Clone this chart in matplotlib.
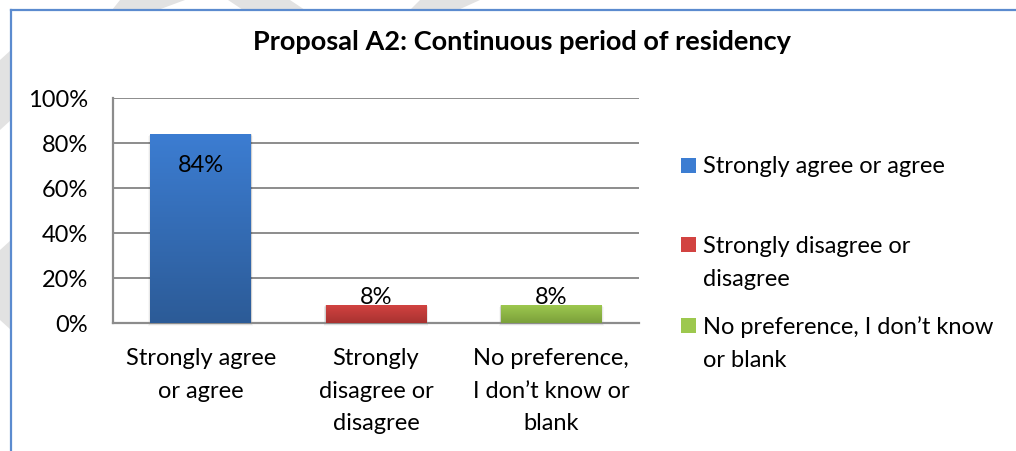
import numpy as np
import matplotlib
matplotlib.use("Agg")
import matplotlib.pyplot as plt
from matplotlib.lines import Line2D
from matplotlib.patches import Polygon
from matplotlib.colors import LinearSegmentedColormap

plt.rcParams['font.family'] = ['Lato', 'DejaVu Sans']

# Survey responses for proposal A2
categories = ["Strongly agree\nor agree", "Strongly\ndisagree or\ndisagree", "No preference,\nI don\u2019t know or\nblank"]
legend_labels = ["Strongly agree or agree", "Strongly disagree or\ndisagree", "No preference, I don\u2019t know\nor blank"]
values = [84, 8, 8]
value_labels = ["84%", "8%", "8%"]
ytick_values = [0, 20, 40, 60, 80, 100]
ytick_labels = ["0%", "20%", "40%", "60%", "80%", "100%"]
title = "Proposal A2: Continuous period of residency"

# top / bottom colours of each bar's vertical gradient
grad_colors = [("#3C7DD2", "#2C5B97"), ("#D24341", "#A83230"), ("#9DC84E", "#7BA03B")]

FS = 17

W, H = 1016, 451
fig = plt.figure(figsize=(W / 100, H / 100), dpi=100)
fig.patch.set_facecolor("white")

# faint watermark strokes outside the chart frame
wm = "#E2E2E2"
for poly in [
    [(120, 0), (185, 0), (158, 10), (112, 10)],
    [(228, 0), (290, 0), (305, 10), (243, 10)],
    [(420, 0), (480, 0), (458, 10), (410, 10)],
    [(0, 60), (11, 50), (11, 120), (0, 130)],
    [(0, 250), (11, 240), (11, 330), (0, 320)],
]:
    fig.add_artist(Polygon([(x / W, 1 - y / H) for x, y in poly], closed=True,
                           facecolor=wm, edgecolor="none", transform=fig.transFigure, zorder=0))

# chart frame (top and left edges visible)
frame_c = "#5B8BCF"
fig.add_artist(Line2D([11 / W, 11 / W], [0, 1 - 10 / H], color=frame_c, lw=1.6,
                      transform=fig.transFigure, zorder=1))
fig.add_artist(Line2D([11 / W, 1], [1 - 10 / H, 1 - 10 / H], color=frame_c, lw=1.6,
                      transform=fig.transFigure, zorder=1))

ax_left, ax_right, ax_top, ax_bot = 113, 639, 98.3, 323
ax = fig.add_axes([ax_left / W, 1 - ax_bot / H, (ax_right - ax_left) / W, (ax_bot - ax_top) / H])
ax.set_facecolor("white")

x = np.arange(len(values))
bar_w = 0.576
bars = ax.bar(x, values, width=bar_w, color="none", zorder=3)

# gradient fills and soft shadows for each bar
for b, (top_c, bot_c) in zip(bars, grad_colors):
    x0, w, h = b.get_x(), b.get_width(), b.get_height()
    for k, a in enumerate([0.10, 0.06, 0.03]):
        d = 0.012 * (k + 1)
        ax.add_patch(plt.Rectangle((x0 - d * 0.3, -0.6 - k * 0.4), w + d * 0.6, h + 0.6,
                                   facecolor="black", alpha=a, edgecolor="none", zorder=2,
                                   clip_on=False))
    cmap = LinearSegmentedColormap.from_list("g", [bot_c, top_c])
    grad = np.linspace(0, 1, 256).reshape(-1, 1)
    ax.imshow(grad, cmap=cmap, origin="lower", aspect="auto",
              extent=(x0, x0 + w, 0, h), zorder=4)
ax.set_xlim(-0.5, len(values) - 0.5)
ax.set_ylim(0, 100)

# value labels
for xi, v, lab in zip(x, values, value_labels):
    if v > 50:
        ax.text(xi, v - 14, lab, ha="center", va="center", fontsize=FS, color="black", zorder=6)
    else:
        ax.text(xi, v + 3.5, lab, ha="center", va="center", fontsize=FS, color="black", zorder=6)

grid_c = "#8C8C8C"
ax.set_yticks(ytick_values)
ax.set_yticklabels(ytick_labels, fontsize=FS)
ax.yaxis.grid(True, color=grid_c, lw=1.4, zorder=1)
ax.set_axisbelow(True)
ax.tick_params(axis="y", length=0, pad=18)
ax.set_xticks(x)
ax.set_xticklabels(categories, fontsize=FS, linespacing=1.68)
ax.tick_params(axis="x", length=0, pad=18)
for s in ["top", "right"]:
    ax.spines[s].set_visible(False)
for s in ["left", "bottom"]:
    ax.spines[s].set_color(grid_c)
    ax.spines[s].set_linewidth(1.6)

fig.text(522 / W, 1 - 42 / H, title, ha="center", va="center", fontsize=19.5,
         fontweight="bold", color="black")

# legend drawn as squares with labels at the right
leg_y = [165, 245, 325]
for (top_c, bot_c), lab, yy in zip(grad_colors, legend_labels, leg_y):
    sq = 15
    fig.add_artist(plt.Rectangle((681 / W, 1 - (yy + sq / 2) / H), sq / W, sq / H,
                                 facecolor=top_c, edgecolor="none", transform=fig.transFigure))
    fig.text(703 / W, 1 - (yy - 9) / H, lab, ha="left", va="top", fontsize=FS,
             linespacing=1.7, color="black")

fig.savefig("out.png", dpi=100, facecolor="white")
